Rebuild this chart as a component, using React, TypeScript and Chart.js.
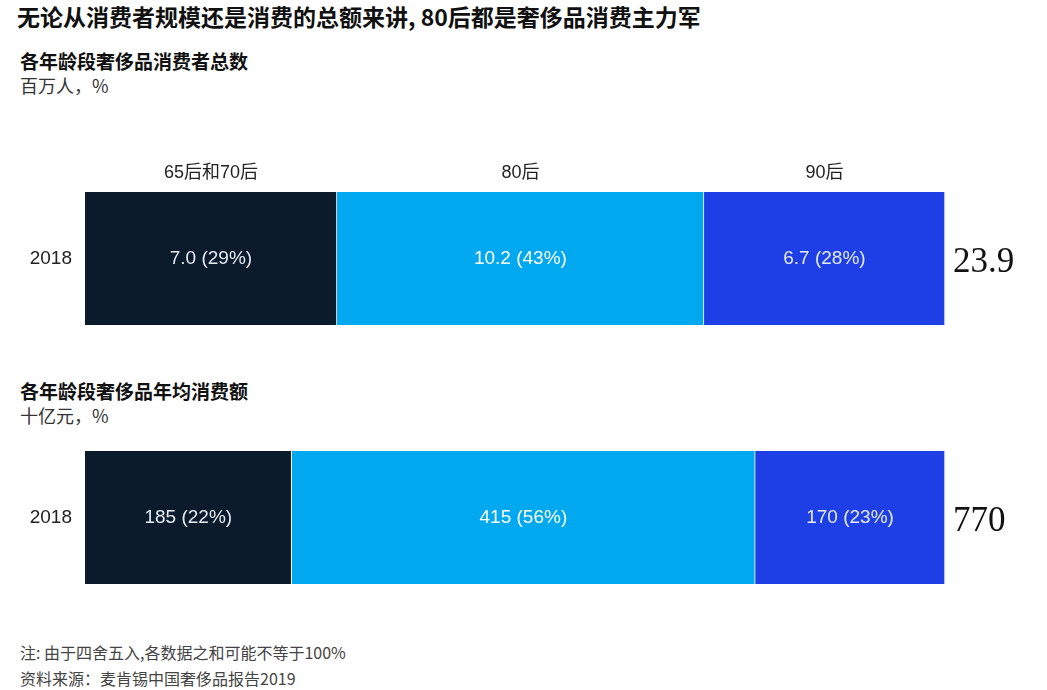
import React, { useEffect, useRef } from 'react'
import { Chart, registerables } from 'chart.js'

Chart.register(...registerables)

const groups = ['65后和70后', '80后', '90后']
const years = ['2018']

const consumerCounts = [7.0, 10.2, 6.7]
const consumerShares = [29, 43, 28]
const consumerTotal = 23.9

const spendAmounts = [185, 415, 170]
const spendShares = [22, 56, 23]
const spendTotal = 770

const groupColors = ['#0b1b2b', '#00a8f0', '#1e3ee6']
const labelColors = ['#e4eaf2', '#ffffff', '#e4eaf2']

const SANS = 'Arial, "Liberation Sans", "Noto Sans CJK SC", sans-serif'
const CJK = '"Noto Sans CJK SC", "Liberation Sans", sans-serif'

type BarPanelProps = {
    values: number[]
    shares: number[]
    total: number
    decimals: number
    showGroups: boolean
    top: number
    height: number
    padTop: number
    padBottom: number
}

const BarPanel = ({ values, shares, total, decimals, showGroups, top, height, padTop, padBottom }: BarPanelProps) => {
    const canvasRef = useRef<HTMLCanvasElement>(null)

    useEffect(() => {
        if (canvasRef.current == null) return

        // labels inside bars, group names above, total on the right
        const barText = {
            id: 'barText',
            afterDatasetsDraw(chart: any) {
                const ctx = chart.ctx
                const area = chart.chartArea
                ctx.save()
                chart.data.datasets.forEach((ds: any, i: number) => {
                    const bar = chart.getDatasetMeta(i).data[0]
                    const { x, y, base } = bar.getProps(['x', 'y', 'base'], true)
                    const cx = (x + base) / 2
                    ctx.textAlign = 'center'
                    ctx.textBaseline = 'middle'
                    ctx.font = '19px ' + SANS
                    ctx.fillStyle = labelColors[i]
                    ctx.fillText(values[i].toFixed(decimals) + ' (' + shares[i] + '%)', cx, y)
                    if (showGroups) {
                        ctx.font = '18px ' + SANS
                        ctx.fillStyle = '#222222'
                        ctx.fillText(ds.label, cx, area.top - 19)
                    }
                })
                ctx.textAlign = 'left'
                ctx.textBaseline = 'middle'
                ctx.font = '35px "Liberation Serif", "DejaVu Serif", serif'
                ctx.fillStyle = '#111111'
                ctx.fillText(String(total), area.right + 8, (area.top + area.bottom) / 2 + 4)
                ctx.restore()
            }
        }

        const myChart = new Chart(canvasRef.current, {
            type: 'bar',
            data: {
                labels: years,
                datasets: groups.map((g, i) => ({
                    label: g,
                    data: [values[i]],
                    backgroundColor: groupColors[i],
                    borderColor: '#ffffff',
                    borderWidth: { left: 0, top: 0, bottom: 0, right: 1 },
                    borderSkipped: false,
                    barPercentage: 1,
                    categoryPercentage: 1,
                }))
            },
            options: {
                indexAxis: 'y',
                animation: false,
                responsive: true,
                maintainAspectRatio: false,
                layout: {
                    padding: { top: padTop, bottom: padBottom, left: 0, right: 102 }
                },
                plugins: {
                    legend: { display: false },
                    tooltip: { enabled: false },
                    title: { display: false }
                },
                scales: {
                    x: {
                        display: false,
                        stacked: true,
                        min: 0,
                        max: total
                    },
                    y: {
                        stacked: true,
                        grid: { display: false, drawTicks: false },
                        border: { display: false },
                        ticks: {
                            padding: 13,
                            color: '#222222',
                            font: { size: 19, family: SANS }
                        },
                        afterFit: (scale: any) => {
                            scale.width = 85
                            scale.paddingTop = 0
                            scale.paddingBottom = 0
                        }
                    }
                }
            },
            plugins: [barText]
        } as any)

        return () => {
            myChart.destroy()
        }
    }, [canvasRef])

    return (
        <div style={{ position: 'absolute', left: 0, top, width: 1047, height }}>
            <canvas ref={canvasRef}></canvas>
        </div>
    )
}

const textStyle = (top: number, size: number, bold: boolean, color: string): React.CSSProperties => ({
    position: 'absolute',
    left: 20,
    top,
    fontSize: size,
    lineHeight: 1,
    fontWeight: bold ? 700 : 400,
    fontFamily: CJK,
    color,
    whiteSpace: 'nowrap'
})

const App = () => {
    return (
        <div style={{ position: 'fixed', left: 0, top: 0, width: 1047, height: 690, background: '#ffffff', overflow: 'hidden' }}>
            <div style={{ ...textStyle(5, 23, true, '#111111'), left: 17 }}>无论从消费者规模还是消费的总额来讲, 80后都是奢侈品消费主力军</div>
            <div style={textStyle(51, 19, true, '#111111')}>各年龄段奢侈品消费者总数</div>
            <div style={textStyle(76, 18, false, '#333333')}>百万人，%</div>
            <BarPanel values={consumerCounts} shares={consumerShares} total={consumerTotal} decimals={1}
                showGroups={true} top={140} height={200} padTop={52} padBottom={15} />
            <div style={textStyle(381, 19, true, '#111111')}>各年龄段奢侈品年均消费额</div>
            <div style={textStyle(406, 18, false, '#333333')}>十亿元，%</div>
            <BarPanel values={spendAmounts} shares={spendShares} total={spendTotal} decimals={0}
                showGroups={false} top={430} height={170} padTop={21} padBottom={16} />
            <div style={textStyle(644, 16, false, '#444444')}>注: 由于四舍五入,各数据之和可能不等于100%</div>
            <div style={textStyle(670, 16, false, '#444444')}>资料来源：麦肯锡中国奢侈品报告2019</div>
        </div>
    )
}

export default App
